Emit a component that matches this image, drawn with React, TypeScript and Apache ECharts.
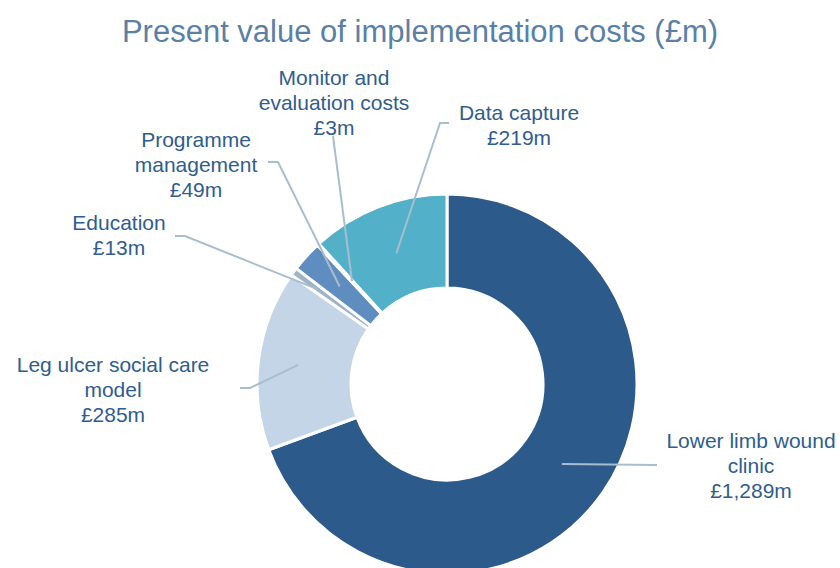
import React, { useEffect, useRef } from 'react';
import * as echarts from 'echarts';

// ---- Data ----
const title = 'Present value of implementation costs (£m)';
const categories = [
  'Lower limb wound clinic',
  'Leg ulcer social care model',
  'Education',
  'Programme management',
  'Monitor and evaluation costs',
  'Data capture',
];
const labelLines = [
  'Lower limb wound\nclinic',
  'Leg ulcer social care\nmodel',
  'Education',
  'Programme\nmanagement',
  'Monitor and\nevaluation costs',
  'Data capture',
];
const values = [1289, 285, 13, 49, 3, 219];

// ---- Style ----
const colors = ['#2c5a8b', '#c3d5e7', '#9fb4c9', '#5f8dbf', '#8fa9c4', '#52b0c9'];
const CX = 447;
const CY = 384;
const R_OUT = 190;
const R_IN = 96;
// radius at which each leader line starts, inside the slice
const lineStartR = [140, 150, 160, 145, 140, 140];

// label centre positions and leader-line end points (elbow, end)
const placement = [
  { x: 751, y: 465, line: [[657, 465], [657, 465]] },
  { x: 113, y: 389, line: [[250, 388], [240, 388]] },
  { x: 119, y: 235, line: [[185, 236], [175, 236]] },
  { x: 196, y: 164, line: [[278, 162], [268, 162]] },
  { x: 334, y: 102, line: [[333, 136], [333, 136]] },
  { x: 519, y: 125, line: [[440, 123], [449, 123]] },
];

// mid-angle (clockwise from 12 o'clock, degrees) of each slice, from the data
const total = values.reduce((a, b) => a + b, 0);
const midAngles: number[] = [];
{
  let acc = 0;
  values.forEach((v) => {
    midAngles.push(((acc + v / 2) / total) * 360);
    acc += v;
  });
}

export default function App() {
  const ref = useRef<HTMLDivElement>(null);
  useEffect(() => {
    if (!ref.current) return;
    const chart = echarts.init(ref.current, undefined, { renderer: 'svg' });
    const data = categories.map((name, i) => ({
      name,
      value: values[i],
      itemStyle: { color: colors[i] },
    }));
    const leaders = placement.map((p, i) => {
      const a = (midAngles[i] * Math.PI) / 180;
      const r = lineStartR[i];
      const sx = CX + r * Math.sin(a);
      const sy = CY - r * Math.cos(a);
      return {
        type: 'polyline',
        z: 100,
        silent: true,
        shape: { points: [[sx, sy], p.line[0], p.line[1]] },
        style: { stroke: '#a9bdd0', lineWidth: 2, fill: null },
      };
    });
    chart.setOption({
      animation: false,
      backgroundColor: '#ffffff',
      title: {
        text: title,
        left: 'center',
        top: 11,
        textStyle: {
          fontFamily: 'Liberation Sans, Arial, sans-serif',
          fontSize: 31,
          fontWeight: 'normal',
          color: '#5b80a6',
        },
      },
      graphic: { elements: leaders },
      series: [
        {
          type: 'pie',
          center: [CX, CY],
          radius: [R_IN, R_OUT],
          startAngle: 90,
          clockwise: true,
          avoidLabelOverlap: false,
          minShowLabelAngle: 0,
          itemStyle: { borderColor: '#ffffff', borderWidth: 3 },
          label: {
            show: true,
            position: 'outside',
            formatter: (p: any) =>
              labelLines[p.dataIndex] + '\n£' + Number(p.value).toLocaleString('en-GB') + 'm',
            fontFamily: 'Liberation Sans, Arial, sans-serif',
            fontSize: 21,
            lineHeight: 25,
            color: '#2f5d8f',
            align: 'center',
          },
          labelLine: { show: false },
          labelLayout: (params: any) => {
            const p = placement[params.dataIndex];
            return { x: p.x, y: p.y, align: 'center', verticalAlign: 'middle' };
          },
          emphasis: { disabled: true },
          data,
        },
      ],
    });
    return () => chart.dispose();
  }, []);
  return (
    <div
      ref={ref}
      style={{ position: 'absolute', left: 0, top: 0, width: 840, height: 568 }}
    />
  );
}
